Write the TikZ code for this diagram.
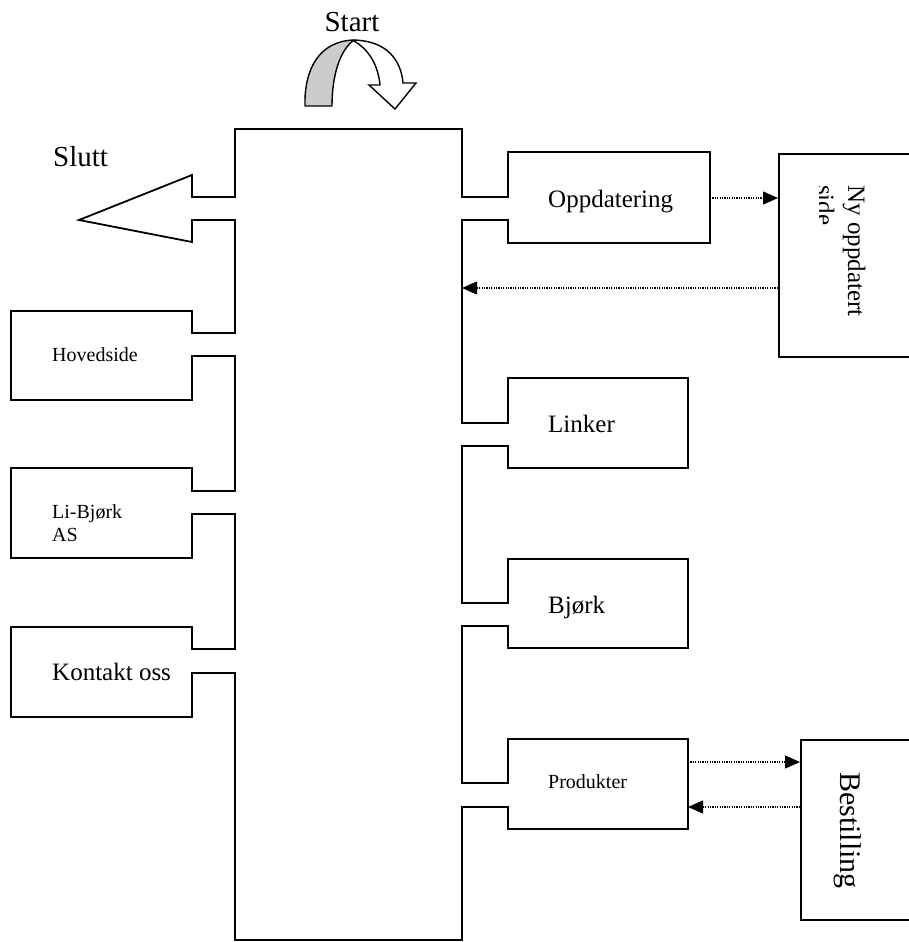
\documentclass[tikz,border=0pt]{standalone}
\usepackage{fontspec}
\setmainfont{Liberation Serif}
\usetikzlibrary{arrows.meta}
\begin{document}
\begin{tikzpicture}[x=1pt,y=-1pt,
  outline/.style={line width=1.8pt, line join=miter},
  sidebox/.style={draw, line width=1.8pt, anchor=north west, inner sep=0pt},
  dotarr/.style={line width=1.2pt, dash pattern=on 1.2pt off 1.2pt, -{Triangle[length=15pt,width=13pt]}},
  lbl/.style={anchor=base west, inner sep=0pt},
  big/.style={font=\fontsize{25}{29}\selectfont},
  small/.style={font=\fontsize{20}{23}\selectfont}]
\useasboundingbox (0,0) rectangle (909,942);
% main outline with notches and boxes
\draw[outline] (235,129) -- (462,129)
 -- (462,197) -- (508,197) -- (508,152) -- (710,152) -- (710,243) -- (508,243) -- (508,220) -- (462,220)
 -- (462,423) -- (508,423) -- (508,378) -- (688,378) -- (688,468) -- (508,468) -- (508,446) -- (462,446)
 -- (462,603) -- (508,603) -- (508,559) -- (688,559) -- (688,648) -- (508,648) -- (508,626) -- (462,626)
 -- (462,783) -- (508,783) -- (508,739) -- (688,739) -- (688,829) -- (508,829) -- (508,807) -- (462,807)
 -- (462,940) -- (235,940)
 -- (235,673) -- (192,673) -- (192,717) -- (11,717) -- (11,627) -- (192,627) -- (192,649) -- (235,649)
 -- (235,514) -- (192,514) -- (192,558) -- (11,558) -- (11,468) -- (192,468) -- (192,491) -- (235,491)
 -- (235,356) -- (192,356) -- (192,400) -- (11,400) -- (11,311) -- (192,311) -- (192,333) -- (235,333)
 -- (235,220) -- (192,220) -- (192,242) -- (79,220) -- (192,175) -- (192,197) -- (235,197) -- cycle;
% start arrow
\draw[line width=1.4pt, fill=gray!40, line join=round]
  (305,106) .. controls (304,68) and (320,41) .. (354,40)
  .. controls (340,50) and (332,75) .. (332,106) -- cycle;
\draw[line width=1.4pt, fill=white, line join=miter]
  (354,40) .. controls (387,41) and (401,60) .. (403,83)
  -- (416,83) -- (395,109) -- (369,85) -- (380,85)
  .. controls (378,64) and (368,49) .. (354,41) -- cycle;
% texts
\node[lbl, font=\fontsize{29}{33}\selectfont, anchor=base] (start) at (352,32) {Start};
\node[lbl, font=\fontsize{29}{33}\selectfont] (slutt) at (53,166) {Slutt};
\node[lbl, big] (topp) at (548,207) {Oppdatering};
\node[lbl, big] (tlink) at (548,432) {Linker};
\node[lbl, big] (tbjork) at (548,613) {Bjørk};
\node[lbl, small] (tprod) at (548,788) {Produkter};
\node[lbl, small] (thoved) at (52,361) {Hovedside};
\node[lbl, small] (tli1) at (52,518) {Li-Bjørk};
\node[lbl, small] (tli2) at (52,541) {AS};
\node[lbl, big] (tkont) at (52,680) {Kontakt oss};
% side boxes
\node[sidebox, minimum width=150pt, minimum height=203pt] (ny) at (778,153) {};
\node[sidebox, minimum width=150pt, minimum height=180pt] (best) at (800,739) {};
\node[lbl, big, rotate=-90] (tny) at (848,185) {Ny oppdatert};
\begin{scope}
\clip (819,150) rectangle (840,360);
\node[lbl, big, rotate=-90] (tside) at (817,185) {side};
\end{scope}
\node[lbl, font=\fontsize{30}{34}\selectfont, rotate=-90] (tbest) at (840,772) {Bestilling};
% connector endpoints
\coordinate (oppE) at (710,198);
\coordinate (nyW1) at (778,198);
\coordinate (nyW2) at (778,288);
\coordinate (mainR) at (462,288);
\coordinate (prodE1) at (688,762);
\coordinate (bestW1) at (800,762);
\coordinate (bestW2) at (800,807);
\coordinate (prodE2) at (688,807);
\draw[dotarr] (oppE) -- (nyW1);
\draw[dotarr] (nyW2) -- (mainR);
\draw[dotarr] (prodE1) -- (bestW1);
\draw[dotarr] (bestW2) -- (prodE2);
\end{tikzpicture}
\end{document}
